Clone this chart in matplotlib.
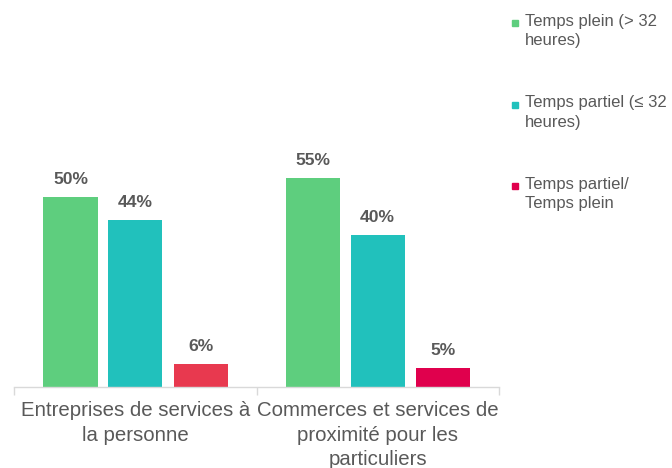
import matplotlib
matplotlib.use("Agg")
import matplotlib.pyplot as plt
from matplotlib.patches import Rectangle
import numpy as np

categories = ["Entreprises de services à\nla personne",
              "Commerces et services de\nproximité pour les\nparticuliers"]
series = ["Temps plein (> 32\nheures)",
          "Temps partiel (≤ 32\nheures)",
          "Temps partiel/\nTemps plein"]
temps_plein = [50, 55]
temps_partiel = [44, 40]
ratio = [6, 5]
values = [temps_plein, temps_partiel, ratio]
labels_fmt = "{:d}%"

# styles
legend_colors = ["#5ECE7E", "#21C1BC", "#E0004D"]
bar_colors = [["#5ECE7E", "#5ECE7E"], ["#21C1BC", "#21C1BC"], ["#E8394F", "#E0004D"]]
text_color = "#595959"
fam = ["Liberation Sans", "DejaVu Sans"]
plt.rcParams["font.family"] = fam

fig = plt.figure(figsize=(6.72, 4.68), dpi=100)
W, H = 672, 468
ax = fig.add_axes([14 / W, 1 - 387 / H, (499 - 14) / W, (387 - 20) / H])

x = np.arange(len(categories))
offsets = [-0.267, 0.0, 0.27]
width = 0.223
for i, vals in enumerate(values):
    bars = ax.bar(x + offsets[i], vals, width=width, color=bar_colors[i], zorder=2)
    for b, v in zip(bars, vals):
        ax.annotate(labels_fmt.format(v), (b.get_x() + b.get_width() / 2, b.get_height()),
                    xytext=(0, 7.5), textcoords="offset points", ha="center", va="bottom",
                    fontsize=12.6, fontweight="bold", color=text_color)

ax.set_xlim(-0.5, 1.5)
ax.set_ylim(0, 96.8)
ax.set_yticks([])
for s in ["left", "right", "top"]:
    ax.spines[s].set_visible(False)
ax.spines["bottom"].set_color("#D9D9D9")
ax.spines["bottom"].set_linewidth(1)
ax.set_xticks(x)
ax.set_xticklabels(categories, fontsize=14.7, color=text_color, linespacing=1.38,
                   multialignment="center")
ax.tick_params(axis="x", which="major", length=0, pad=10)
ax.set_xticks([-0.5, 0.5, 1.5], minor=True)
ax.tick_params(axis="x", which="minor", length=6, color="#D9D9D9", width=1)

# legend
tops = [14, 95.5, 177]
for name, c, t in zip(series, legend_colors, tops):
    fig.text(525 / W, 1 - t / H, name, ha="left", va="top", fontsize=12,
             color=text_color, linespacing=1.34)
    cy = t + 9
    fig.patches.append(Rectangle((512 / W, 1 - (cy + 3) / H), 6 / W, 6 / H,
                                 transform=fig.transFigure, color=c, figure=fig))

fig.savefig("out.png", dpi=100)
